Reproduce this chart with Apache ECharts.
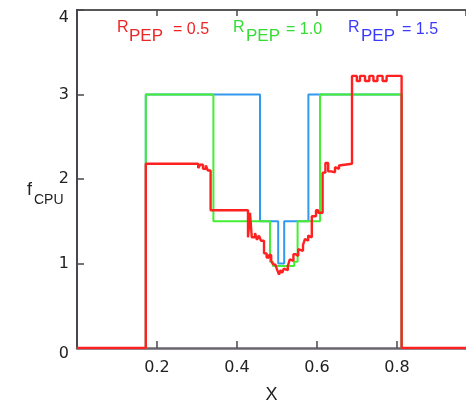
<!DOCTYPE html>
<html>
<head>
<meta charset="utf-8">
<script src="https://cdn.jsdelivr.net/npm/echarts@6/dist/echarts.min.js"></script>
<style>
  html, body { margin: 0; padding: 0; background: #fff; }
  #chart { width: 466px; height: 409px; }
</style>
</head>
<body>
<div id="chart"></div>
<script>
// Step profiles of f_CPU along X: each level starts at the matching x and
// holds until the next x.
const redX = [0.0, 0.172, 0.303, 0.308, 0.315, 0.322, 0.327, 0.334,
  0.4275, 0.4325, 0.437, 0.445, 0.45, 0.455, 0.46, 0.4675,
  0.474, 0.48, 0.4855, 0.49, 0.4955, 0.5, 0.505, 0.509, 0.513, 0.517,
  0.522, 0.527, 0.532, 0.537, 0.541, 0.547, 0.553, 0.558, 0.565, 0.57,
  0.574, 0.578, 0.582, 0.587, 0.5975, 0.603, 0.614, 0.621, 0.628, 0.635,
  0.64, 0.645, 0.65, 0.655, 0.66, 0.6875, 0.6995, 0.7075, 0.72, 0.7308,
  0.741, 0.751, 0.764, 0.774, 0.8115, 1.0];
const redY = [0, 2.18, 2.13, 2.17, 2.12, 2.16, 2.10, 1.63,
  1.31, 1.60, 1.31, 1.36, 1.28, 1.33, 1.27, 1.12,
  1.07, 1.10, 1.03, 0.99, 1.01, 0.93, 0.87, 0.92, 0.89, 0.94,
  0.92, 0.97, 1.05, 1.03, 1.11, 1.09, 1.17, 1.15, 1.22, 1.29,
  1.27, 1.33, 1.31, 1.56, 1.63, 1.60, 2.075, 2.19, 2.09, 2.11,
  2.08, 2.14, 2.12, 2.16, 2.18, 3.22, 3.16, 3.22, 3.16, 3.22,
  3.16, 3.22, 3.16, 3.22, 0, 0];

const greenX = [0.0, 0.172, 0.341, 0.4825, 0.49, 0.543, 0.5515, 0.6075, 0.8115, 1.0];
const greenY = [0, 3.0, 1.5, 1.02, 0.97, 1.02, 1.5, 3.0, 0, 0];

const blueX = [0.0, 0.172, 0.4575, 0.503, 0.518, 0.5785, 0.8115, 1.0];
const blueY = [0, 3.0, 1.5, 1.0, 1.5, 3.0, 0, 0];

// The x range stops short of 1.0 at the right edge of the panel.
const xTicks = { min: 0, max: 0.9725, interval: 0.2 };
const yTicks = { min: 0, max: 4, interval: 1 };

const pairs = (xs, ys) => xs.map((x, i) => [x, ys[i]]);

const AXIS_COLOR = '#4a4650';
const LABEL_FONT = 'DejaVu Sans';
const TEXT_FONT = 'Liberation Sans';

function stepSeries(name, xs, ys, color, width) {
  return {
    name: name,
    type: 'line',
    step: 'end',
    symbol: 'none',
    data: pairs(xs, ys),
    lineStyle: { color: color, width: width },
    animation: false
  };
}

// Label pieces "R", subscript "PEP", and "= value"
function keyText(x, value, color) {
  return [
    { type: 'text', left: x.r, top: 20, style: { text: 'R', fill: color, font: '16px "' + TEXT_FONT + '"' } },
    { type: 'text', left: x.p, top: 28, style: { text: 'PEP', fill: color, font: '17px "' + TEXT_FONT + '"' } },
    { type: 'text', left: x.v, top: 22, style: { text: '= ' + value, fill: color, font: '16px "' + TEXT_FONT + '"' } }
  ];
}

const chart = echarts.init(document.getElementById('chart'), null, { renderer: 'canvas' });

chart.setOption({
  backgroundColor: '#ffffff',
  animation: false,
  grid: { left: 77, top: 10, right: 0, height: 346, containLabel: false },
  xAxis: [
    {
      type: 'value',
      min: xTicks.min, max: xTicks.max, interval: xTicks.interval,
      position: 'bottom',
      name: 'X',
      nameLocation: 'middle',
      nameGap: 38,
      nameTextStyle: { fontFamily: TEXT_FONT, fontSize: 18, color: '#222' },
      axisLine: { show: true, lineStyle: { color: '#6a6670', width: 2.5 } },
      axisTick: { show: true, inside: true, length: 7, lineStyle: { color: AXIS_COLOR, width: 1.5 } },
      axisLabel: {
        showMinLabel: false, showMaxLabel: false, margin: 12,
        fontFamily: LABEL_FONT, fontSize: 16, color: '#222',
        formatter: v => v.toFixed(1)
      },
      splitLine: { show: false }
    },
    {
      type: 'value',
      min: xTicks.min, max: xTicks.max, interval: xTicks.interval,
      position: 'top',
      axisLine: { show: true, onZero: false, lineStyle: { color: '#222', width: 1.5 } },
      axisTick: { show: true, inside: true, length: 6, lineStyle: { color: AXIS_COLOR, width: 1.5 } },
      axisLabel: { show: false },
      splitLine: { show: false }
    }
  ],
  yAxis: {
    type: 'value',
    min: yTicks.min, max: yTicks.max, interval: yTicks.interval,
    axisLine: { show: true, lineStyle: { color: AXIS_COLOR, width: 2 } },
    axisTick: { show: true, inside: true, length: 7, lineStyle: { color: AXIS_COLOR, width: 1.5 } },
    axisLabel: {
      margin: 8, fontFamily: LABEL_FONT, fontSize: 16, color: '#222',
      verticalAlignMaxLabel: 'top',
      // the zero label sits just above the baseline
      formatter: v => (v === 0 ? '{lo|0}' : String(v)),
      rich: { lo: { fontFamily: LABEL_FONT, fontSize: 16, color: '#222', padding: [12, 0, 0, 0] } }
    },
    splitLine: { show: false }
  },
  graphic: [
    { type: 'text', left: 27, top: 181, style: { text: 'f', fill: '#222', font: '18px "' + TEXT_FONT + '"' } },
    { type: 'text', left: 34, top: 193, style: { text: 'CPU', fill: '#222', font: '14px "' + TEXT_FONT + '"' } },
    ...keyText({ r: 117, p: 129, v: 173 }, '0.5', '#ee2525'),
    ...keyText({ r: 233, p: 246, v: 286 }, '1.0', '#33dd33'),
    ...keyText({ r: 348, p: 361, v: 402 }, '1.5', '#3a3aff')
  ],
  series: [
    stepSeries('R_PEP = 1.5', blueX, blueY, '#3399ee', 2),
    stepSeries('R_PEP = 1.0', greenX, greenY, '#44ee33', 2),
    stepSeries('R_PEP = 0.5', redX, redY, '#ff2020', 2.4)
  ]
});
</script>
</body>
</html>
